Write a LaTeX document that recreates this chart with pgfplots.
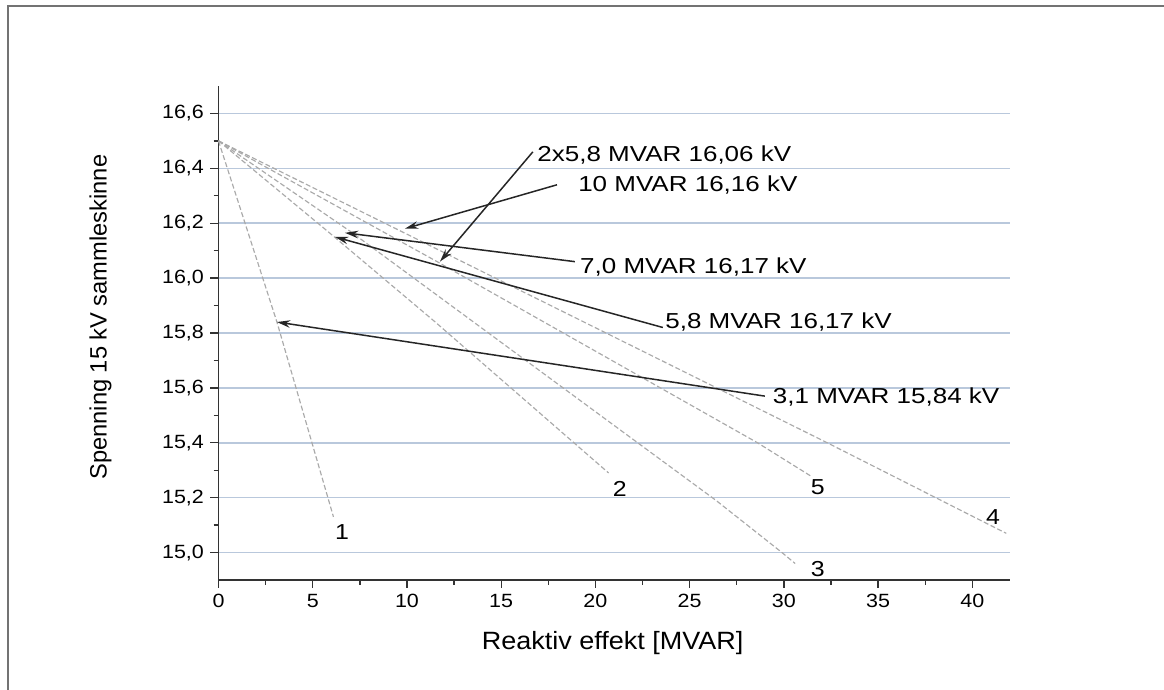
\documentclass[border=0pt]{standalone}
\usepackage{fontspec}
\setmainfont{Liberation Sans}
\usepackage{pgfplots}
\pgfplotsset{compat=1.18}
\usetikzlibrary{arrows.meta}
\definecolor{gridc}{RGB}{185,200,220}
\definecolor{curvec}{RGB}{170,170,170}
\begin{document}
\begin{tikzpicture}
\useasboundingbox (0,0) rectangle (698.4pt,414pt);
\draw[black!55, line width=0.9pt] (4.8pt,0pt) -- (4.8pt,410.4pt) -- (698.4pt,410.4pt);
\begin{axis}[
  at={(131.1pt,66pt)}, anchor=south west,
  scale only axis, width=474.9pt, height=296.4pt,
  xmin=0, xmax=42, ymin=14.9, ymax=16.7,
  axis lines*=left,
  axis line style={line width=0.9pt, black!80},
  xtick={0,5,...,40}, minor x tick num=1,
  ytick={15.0,15.2,15.4,15.6,15.8,16.0,16.2,16.4,16.6}, minor y tick num=1,
  tick align=outside,
  major tick length=4.8pt, minor tick length=3pt,
  tick style={black!80, line width=0.8pt},
  ymajorgrids, major grid style={gridc, line width=0.9pt},
  yticklabel style={/pgf/number format/.cd, use comma, fixed, fixed zerofill, precision=1},
  /pgf/number format/assume math mode=true,
  ticklabel style={font=\fontsize{11.5}{13}\selectfont, xscale=1.12},
  xlabel={Reaktiv effekt [MVAR]},
  ylabel={Spenning 15 kV sammleskinne},
  xlabel style={font=\fontsize{15}{17}\selectfont, xscale=1.08, at={(axis description cs:0.498,-0.128)}, anchor=center},
  ylabel style={font=\fontsize{14.2}{16}\selectfont, at={(axis description cs:-0.149,0.532)}, anchor=center},
  clip=false,
]
% curves 1-5
\addplot[curvec, line width=0.7pt, dash pattern=on 3pt off 1.5pt] coordinates {(0,16.5) (3.1,15.84) (6.1,15.13)};
\addplot[curvec, line width=0.7pt, dash pattern=on 3pt off 1.5pt] coordinates {(0,16.5) (5.8,16.17) (11.5,15.84) (20.7,15.29)};
\addplot[curvec, line width=0.7pt, dash pattern=on 3pt off 1.5pt] coordinates {(0,16.5) (7.0,16.17) (26.4,15.19) (29.9,15.0) (30.6,14.96)};
\addplot[curvec, line width=0.7pt, dash pattern=on 3pt off 1.5pt] coordinates {(0,16.5) (10,16.16) (32.3,15.4) (41.8,15.07)};
\addplot[curvec, line width=0.7pt, dash pattern=on 3pt off 1.5pt] coordinates {(0,16.5) (11.6,16.06) (28.6,15.40) (31.4,15.28)};

% arrows
\tikzset{arr/.style={black!85, line width=0.9pt, -{Stealth[length=8pt, width=4.5pt]}},
  ann/.style={anchor=west, font=\fontsize{13}{15}\selectfont, xscale=1.2, inner sep=0pt}}
\draw[arr] (axis cs:16.68,16.46) -- (axis cs:11.75,16.06);
\draw[arr] (axis cs:17.96,16.34) -- (axis cs:9.89,16.18);
\draw[arr] (axis cs:18.91,16.06) -- (axis cs:6.71,16.165);
\draw[arr] (axis cs:23.58,15.82) -- (axis cs:6.18,16.15);
\draw[arr] (axis cs:28.99,15.57) -- (axis cs:3.10,15.84);
\node[ann] at (axis cs:16.9,16.45) {2x5,8 MVAR 16,06 kV};
\node[ann] at (axis cs:19.07,16.34) {10 MVAR 16,16 kV};
\node[ann] at (axis cs:19.17,16.04) {7,0 MVAR 16,17 kV};
\node[ann] at (axis cs:23.69,15.84) {5,8 MVAR 16,17 kV};
\node[ann] at (axis cs:29.4,15.565) {3,1 MVAR 15,84 kV};
\tikzset{num/.style={font=\fontsize{13}{15}\selectfont, xscale=1.15, inner sep=0pt}}
\node[num] at (axis cs:6.55,15.073) {1};
\node[num] at (axis cs:21.3,15.23) {2};
\node[num] at (axis cs:31.8,14.94) {3};
\node[num] at (axis cs:41.1,15.13) {4};
\node[num] at (axis cs:31.8,15.24) {5};
\end{axis}
\end{tikzpicture}
\end{document}
